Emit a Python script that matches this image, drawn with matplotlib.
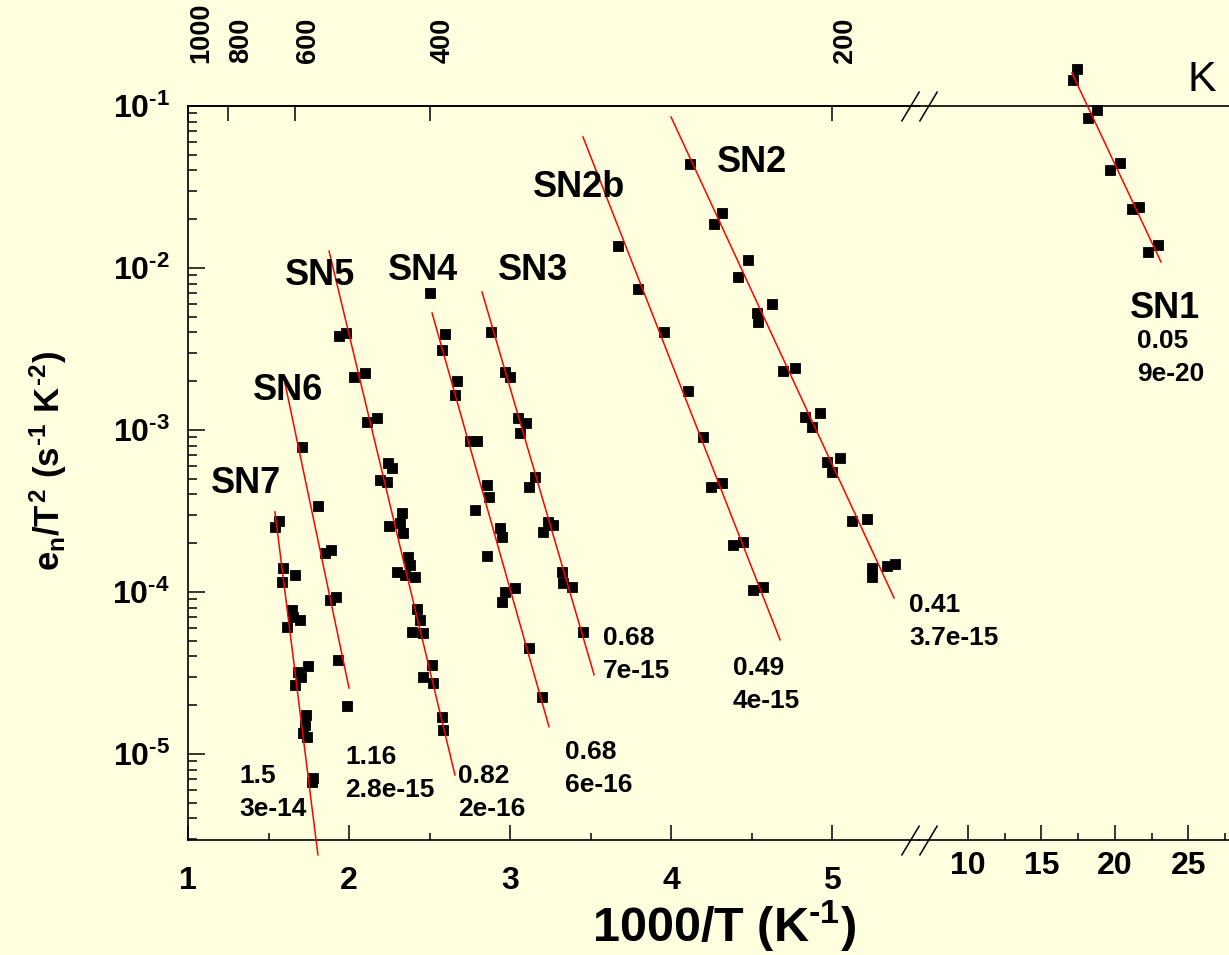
import numpy as np
import matplotlib.pyplot as plt
from matplotlib.ticker import FixedLocator, LogLocator, NullFormatter
from matplotlib.path import Path

plt.rcParams['font.family'] = ['Liberation Sans', 'DejaVu Sans']
plt.rcParams['font.weight'] = 'bold'
plt.rcParams['mathtext.fontset'] = 'custom'
plt.rcParams['mathtext.rm'] = 'Liberation Sans:bold'
plt.rcParams['mathtext.it'] = 'Liberation Sans:bold'
plt.rcParams['mathtext.bf'] = 'Liberation Sans:bold'

# ---- data: 1000/T (1/K) vs e_n/T^2 (1/(s K^2)) ----
sn7_x = [1.540, 1.565, 1.590, 1.584, 1.665, 1.646, 1.615, 1.696, 1.652, 1.745,
         1.683, 1.665, 1.702, 1.733, 1.727, 1.714, 1.739, 1.776, 1.770]
sn7_y = [2.52e-4, 2.74e-4, 1.41e-4, 1.15e-4, 1.27e-4, 7.74e-5, 6.08e-5, 6.71e-5, 7.01e-5, 3.49e-5,
         3.21e-5, 2.67e-5, 2.99e-5, 1.74e-5, 1.51e-5, 1.35e-5, 1.27e-5, 7.11e-6, 6.71e-6]

sn6_x = [1.708, 1.807, 1.851, 1.888, 1.882, 1.919, 1.932, 1.988]
sn6_y = [7.85e-4, 3.40e-4, 1.74e-4, 1.82e-4, 8.93e-5, 9.31e-5, 3.80e-5, 1.98e-5]

sn5_x = [1.938, 1.981, 2.031, 2.099, 2.112, 2.174, 2.242, 2.267, 2.193, 2.236,
         2.329, 2.248, 2.317, 2.335, 2.366, 2.379, 2.298, 2.348, 2.410, 2.422,
         2.441, 2.391, 2.460, 2.516, 2.460, 2.522, 2.578, 2.584]
sn5_y = [3.80e-3, 3.97e-3, 2.12e-3, 2.25e-3, 1.12e-3, 1.19e-3, 6.25e-4, 5.82e-4, 4.91e-4, 4.78e-4,
         3.08e-4, 2.55e-4, 2.67e-4, 2.31e-4, 1.64e-4, 1.47e-4, 1.33e-4, 1.27e-4, 1.24e-4, 7.85e-5,
         6.71e-5, 5.66e-5, 5.58e-5, 3.54e-5, 2.99e-5, 2.74e-5, 1.69e-5, 1.41e-5]

sn4_x = [2.503, 2.596, 2.578, 2.671, 2.658, 2.752, 2.795, 2.857, 2.870, 2.783,
         2.938, 2.950, 2.857, 3.031, 2.969, 2.950, 3.118, 3.199]
sn4_y = [7.01e-3, 3.92e-3, 3.12e-3, 2.00e-3, 1.64e-3, 8.55e-4, 8.55e-4, 4.57e-4, 3.86e-4, 3.21e-4,
         2.48e-4, 2.19e-4, 1.67e-4, 1.06e-4, 1.00e-4, 8.67e-5, 4.51e-5, 2.25e-5]

sn3_x = [2.882, 2.969, 3.000, 3.050, 3.099, 3.062, 3.155, 3.118, 3.236, 3.205,
         3.267, 3.323, 3.329, 3.385, 3.453]
sn3_y = [4.03e-3, 2.28e-3, 2.12e-3, 1.19e-3, 1.10e-3, 9.58e-4, 5.13e-4, 4.45e-4, 2.71e-4, 2.34e-4,
         2.59e-4, 1.33e-4, 1.14e-4, 1.07e-4, 5.66e-5]

sn2b_x = [3.671, 3.795, 3.957, 4.106, 4.199, 4.248, 4.317, 4.385, 4.447, 4.509, 4.571]
sn2b_y = [1.37e-2, 7.41e-3, 4.03e-3, 1.74e-3, 9.06e-4, 4.45e-4, 4.71e-4, 1.95e-4, 2.04e-4, 1.03e-4, 1.07e-4]

sn2_x = [4.118, 4.317, 4.267, 4.478, 4.416, 4.534, 4.627, 4.540, 4.696, 4.770,
         4.832, 4.925, 4.876, 4.969, 5.050, 5.000, 5.124, 5.217, 5.248, 5.342, 5.391, 5.248]
sn2_y = [4.39e-2, 2.19e-2, 1.87e-2, 1.12e-2, 8.80e-3, 5.27e-3, 6.00e-3, 4.65e-3, 2.31e-3, 2.41e-3,
         1.20e-3, 1.27e-3, 1.04e-3, 6.34e-4, 6.71e-4, 5.51e-4, 2.74e-4, 2.82e-4, 1.41e-4, 1.45e-4,
         1.49e-4, 1.24e-4]

sn1_x = [17.41, 17.14, 18.78, 18.16, 20.34, 19.66, 21.63, 21.16, 22.93, 22.24]
sn1_y = [0.169, 0.145, 9.45e-2, 8.43e-2, 4.45e-2, 4.03e-2, 2.38e-2, 2.31e-2, 1.39e-2, 1.26e-2]

traps = ['SN7', 'SN6', 'SN5', 'SN4', 'SN3', 'SN2b', 'SN2', 'SN1']
energies = ['1.5', '1.16', '0.82', '0.68', '0.68', '0.49', '0.41', '0.05']
sigmas = ['3e-14', '2.8e-15', '2e-16', '6e-16', '7e-15', '4e-15', '3.7e-15', '9e-20']
points_x = [sn7_x, sn6_x, sn5_x, sn4_x, sn3_x, sn2b_x, sn2_x, sn1_x]
points_y = [sn7_y, sn6_y, sn5_y, sn4_y, sn3_y, sn2b_y, sn2_y, sn1_y]

# Arrhenius fit lines (start, end)
fit_x = [(1.540, 1.807), (1.602, 2.000), (1.876, 2.658), (2.516, 3.242),
         (2.826, 3.522), (3.453, 4.677), (4.000, 5.385), (17.07, 23.13)]
fit_y = [(3.12e-4, 2.38e-6), (1.95e-3, 2.55e-5), (1.27e-2, 7.41e-6), (5.27e-3, 1.47e-5),
         (7.11e-3, 3.08e-5), (6.44e-2, 5.06e-5), (8.55e-2, 9.18e-5), (0.160, 1.09e-2)]

temps = [1000, 800, 600, 400, 200]

# label anchors (baseline, left)
name_xy = [(1.143, 4.08e-4), (1.404, 1.53e-3), (1.602, 7.85e-3), (2.242, 8.43e-3),
           (2.925, 8.43e-3), (3.143, 2.74e-2), (4.286, 3.92e-2), (21.02, 4.91e-3)]
value_xy = [(1.317, 6.62e-6), (1.975, 8.67e-6), (2.677, 6.62e-6), (3.342, 9.31e-6),
            (3.578, 4.71e-5), (4.385, 3.08e-5), (5.478, 7.54e-5), (21.5, 3.21e-3)]

bg = '#FFFFE0'
fig = plt.figure(figsize=(12.29, 9.55), dpi=100, facecolor=bg)
axL = fig.add_axes([188 / 1229, 115 / 955, 731 / 1229, 734 / 955])
axR = fig.add_axes([919 / 1229, 115 / 955, 310 / 1229, 734 / 955], sharey=axL)

for ax in (axL, axR):
    ax.set_facecolor('none')
    ax.set_yscale('log')
    ax.spines['right'].set_visible(False)
    for s in ('top', 'bottom', 'left'):
        ax.spines[s].set_linewidth(1.2)
axR.spines['left'].set_visible(False)

axL.set_ylim(2.94e-6, 0.1)
axL.set_xlim(1, 5.54)
axR.set_xlim(6.667, 27.76)

for i, name in enumerate(traps):
    ax = axR if name == 'SN1' else axL
    ax.plot(points_x[i], points_y[i], 's', color='black', markersize=7.5, mew=0.6,
            clip_on=False, zorder=2)
    ax.plot(fit_x[i], fit_y[i], '-', color='red', lw=1.1, clip_on=False, zorder=3)
    ax.text(name_xy[i][0], name_xy[i][1], name, fontsize=26, ha='left', va='baseline')
    ax.text(value_xy[i][0], value_xy[i][1], energies[i], fontsize=19, ha='left', va='baseline')
    ax.annotate(sigmas[i], xy=value_xy[i], xytext=(0, -24), textcoords='offset points',
                fontsize=19, ha='left', va='baseline')

# y axis (left only)
yexp = [-1, -2, -3, -4, -5]
axL.set_yticks([10.0 ** e for e in yexp],
               labels=[r'$10^{\text{-}%d}$' % -e for e in yexp])
axL.yaxis.set_minor_locator(LogLocator(base=10, subs=np.arange(2, 10)))
axL.yaxis.set_minor_formatter(NullFormatter())
axL.tick_params(axis='y', which='major', direction='in', length=12, width=1.1, pad=13, labelsize=23)
axL.tick_params(axis='y', which='minor', direction='in', length=6.5, width=1.1)
axR.tick_params(axis='y', which='both', left=False, labelleft=False)

# x axes, broken
axL.set_xticks([1, 2, 3, 4, 5])
axL.xaxis.set_minor_locator(FixedLocator([1.5, 2.5, 3.5, 4.5]))
axR.set_xticks([10, 15, 20, 25])
axR.xaxis.set_minor_locator(FixedLocator([12.5, 17.5, 22.5, 27.5]))
axL.tick_params(axis='x', which='major', direction='in', length=10.8, width=1.1, pad=19, labelsize=23)
axR.tick_params(axis='x', which='major', direction='in', length=10.8, width=1.1, pad=8, labelsize=23)
for ax in (axL, axR):
    ax.tick_params(axis='x', which='minor', direction='in', length=5, width=1.1)

brk = Path([(-0.6, -1), (0.6, 1)], [Path.MOVETO, Path.LINETO])
for ax, xb in ((axL, 5.484), (axR, 7.279)):
    ax.plot([xb, xb], [0, 1], linestyle='none', marker=brk, markersize=21.6,
            mec='black', mew=1.1, transform=ax.get_xaxis_transform(), clip_on=False)

# temperature scale on top
sec = axL.secondary_xaxis('top')
sec.set_xticks([1000 / t for t in temps], labels=[str(t) for t in temps])
sec.tick_params(direction='in', length=10.8, width=1.1, pad=31, labelsize=19.5, labelrotation=90)
for lab in sec.get_xticklabels():
    lab.set_horizontalalignment('left')
sec.spines['top'].set_linewidth(1.2)
axR.text(24.97, 0.124, 'K', fontsize=31, fontweight='normal', ha='left', va='baseline')

fig.text(48 / 1229, 1 - 461 / 955, r'$e_n/T^2\ (s^{\text{-}1}\ K^{\text{-}2})$', rotation=90,
         ha='center', va='center', fontsize=25)
fig.text(724 / 1229, 1 - 942 / 955, r'1000/T (K$^{\text{-}1}$)', ha='center', va='baseline',
         fontsize=35)

fig.savefig('out.png', dpi=100, facecolor=bg)
